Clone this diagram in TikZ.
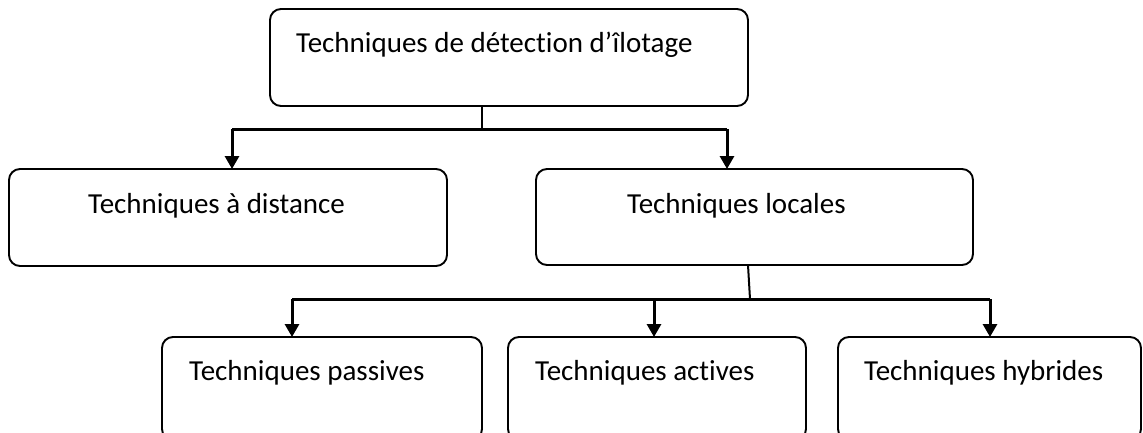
\documentclass[tikz,border=0pt]{standalone}
\usepackage{fontspec}
\setmainfont{Carlito}[Ligatures=NoCommon]
\usetikzlibrary{arrows.meta}
\begin{document}
\begin{tikzpicture}[x=1pt,y=-1pt,
  box/.style={draw=black,line width=1.9pt,rounded corners=11pt},
  lbl/.style={anchor=base west,inner sep=0pt,font=\fontsize{29}{34}\selectfont},
  stem/.style={line width=2pt},
  link/.style={line width=3pt},
  arr/.style={link,-{Triangle[length=13pt,width=14pt]}}]
\useasboundingbox (0,0) rectangle (1143,432);
\clip (0,0) rectangle (1143,432);
% boxes
\path[box] (270,9) rectangle (748,106);
\path[box] (9,169) rectangle (447,266);
\path[box] (536,169) rectangle (973,265);
\path[box] (162,337) rectangle (482,440);
\path[box] (508,337) rectangle (806,440);
\path[box] (838,337) rectangle (1141,440);
% labels
\node[lbl] (lroot) at (296,52) {Techniques de détection d’îlotage};
\node[lbl] (ldist) at (88,213) {Techniques à distance};
\node[lbl] (lloc) at (627,213) {Techniques locales};
\node[lbl] (lpas) at (189,380) {Techniques passives};
\node[lbl] (lact) at (535,380) {Techniques actives};
\node[lbl] (lhyb) at (864,380) {Techniques hybrides};
% connector anchors
\coordinate (root) at (482,106);
\coordinate (bus1) at (482,129);
\coordinate (bus1l) at (232,129);
\coordinate (bus1r) at (727,129);
\coordinate (dist) at (232,169);
\coordinate (loc) at (727,169);
\coordinate (locb) at (748,265);
\coordinate (bus2) at (750,299);
\coordinate (bus2l) at (292,299);
\coordinate (bus2m) at (654,299);
\coordinate (bus2r) at (990,299);
\coordinate (pas) at (292,337);
\coordinate (act) at (654,337);
\coordinate (hyb) at (990,337);
% connectors
\draw[stem] (root) -- (bus1);
\draw[link] (bus1l) -- (bus1r);
\draw[arr] (bus1l) -- (dist);
\draw[arr] (bus1r) -- (loc);
\draw[stem] (locb) -- (bus2);
\draw[link] (bus2l) -- (bus2r);
\draw[arr] (bus2l) -- (pas);
\draw[arr] (bus2m) -- (act);
\draw[arr] (bus2r) -- (hyb);
\end{tikzpicture}
\end{document}
